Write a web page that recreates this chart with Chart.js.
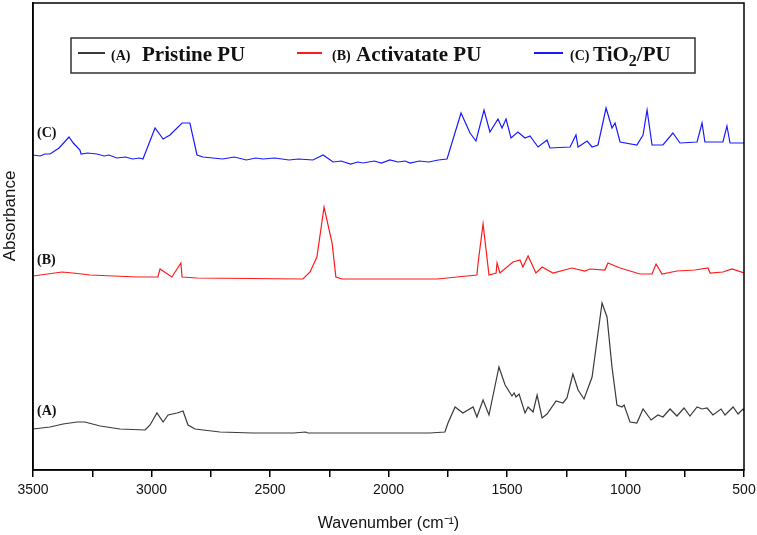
<!DOCTYPE html>
<html>
<head>
<meta charset="utf-8">
<script src="https://cdn.jsdelivr.net/npm/chart.js@4.4.0/dist/chart.umd.min.js"></script>
<style>
  html, body { margin: 0; padding: 0; background: #fff; }
  #wrap { width: 757px; height: 535px; }
</style>
</head>
<body>
<div id="wrap"><canvas id="grafico" width="757" height="535"></canvas></div>
<script>
// Datos (absorbancia en unidades arbitrarias, curvas desplazadas)
const waveA = [3500, 3428, 3373, 3314, 3281, 3217, 3133, 3027, 3006, 2977, 2951, 2930, 2892, 2867, 2846, 2816, 2711, 2572, 2400, 2350, 2340, 2300, 2247, 1994, 1825, 1762, 1749, 1719, 1686, 1643, 1627, 1601, 1576, 1534, 1508, 1479, 1470, 1462, 1449, 1424, 1411, 1390, 1373, 1352, 1331, 1293, 1264, 1247, 1222, 1200, 1175, 1141, 1099, 1078, 1057, 1036, 1015, 1006, 981, 952, 926, 892, 863, 842, 812, 783, 753, 728, 698, 677, 656, 631, 597, 580, 546, 525, 504, 500];
const absA  = [0.41, 0.43, 0.46, 0.48, 0.48, 0.44, 0.41, 0.40, 0.45, 0.57, 0.48, 0.55, 0.57, 0.59, 0.45, 0.41, 0.38, 0.37, 0.37, 0.38, 0.37, 0.37, 0.37, 0.37, 0.37, 0.38, 0.47, 0.63, 0.57, 0.63, 0.53, 0.70, 0.55, 1.03, 0.85, 0.74, 0.77, 0.73, 0.76, 0.57, 0.63, 0.58, 0.75, 0.52, 0.56, 0.69, 0.67, 0.72, 0.96, 0.80, 0.71, 0.93, 1.67, 1.53, 1.03, 0.65, 0.63, 0.65, 0.48, 0.47, 0.61, 0.50, 0.55, 0.53, 0.61, 0.54, 0.62, 0.54, 0.63, 0.61, 0.62, 0.55, 0.61, 0.55, 0.63, 0.56, 0.61, 0.59];

const waveB = [3500, 3378, 3331, 3259, 3061, 2973, 2964, 2914, 2876, 2871, 2808, 2361, 2331, 2302, 2272, 2238, 2222, 2196, 1795, 1711, 1627, 1622, 1601, 1576, 1546, 1542, 1530, 1475, 1445, 1433, 1411, 1378, 1352, 1306, 1226, 1171, 1150, 1087, 1074, 1023, 939, 888, 871, 846, 783, 707, 652, 643, 589, 551, 500];
const absB  = [1.94, 1.98, 1.97, 1.95, 1.93, 1.93, 2.01, 1.93, 2.07, 1.93, 1.92, 1.91, 1.98, 2.13, 2.63, 2.27, 1.93, 1.91, 1.91, 1.93, 1.95, 2.07, 2.46, 1.95, 1.97, 2.07, 1.97, 2.08, 2.10, 2.03, 2.14, 1.97, 2.03, 1.97, 2.02, 1.99, 2.01, 2.00, 2.07, 2.02, 1.96, 1.96, 2.06, 1.96, 1.99, 2.00, 2.02, 1.97, 1.98, 2.01, 1.97];

const waveC = [3500, 3470, 3450, 3428, 3390, 3348, 3330, 3302, 3297, 3270, 3230, 3200, 3180, 3146, 3110, 3080, 3050, 3036, 2985, 2951, 2922, 2871, 2838, 2808, 2783, 2700, 2650, 2600, 2560, 2530, 2480, 2420, 2380, 2319, 2276, 2234, 2200, 2160, 2130, 2108, 2060, 2030, 1994, 1960, 1930, 1909, 1870, 1830, 1790, 1753, 1694, 1656, 1631, 1597, 1572, 1538, 1521, 1504, 1483, 1454, 1424, 1403, 1369, 1331, 1319, 1234, 1209, 1200, 1162, 1141, 1116, 1082, 1057, 1044, 1023, 952, 926, 909, 888, 842, 800, 770, 698, 677, 665, 589, 572, 559, 500];
const absC  = [3.15, 3.14, 3.16, 3.16, 3.22, 3.33, 3.27, 3.20, 3.16, 3.17, 3.16, 3.14, 3.15, 3.12, 3.13, 3.11, 3.12, 3.11, 3.42, 3.31, 3.35, 3.47, 3.47, 3.15, 3.13, 3.11, 3.13, 3.10, 3.12, 3.11, 3.12, 3.10, 3.11, 3.10, 3.15, 3.08, 3.09, 3.06, 3.08, 3.07, 3.09, 3.07, 3.10, 3.08, 3.09, 3.07, 3.09, 3.08, 3.10, 3.11, 3.57, 3.37, 3.29, 3.60, 3.38, 3.51, 3.42, 3.51, 3.32, 3.38, 3.32, 3.34, 3.23, 3.30, 3.22, 3.23, 3.35, 3.23, 3.29, 3.23, 3.25, 3.62, 3.42, 3.47, 3.28, 3.25, 3.35, 3.60, 3.25, 3.25, 3.37, 3.27, 3.28, 3.47, 3.28, 3.28, 3.44, 3.27, 3.27];

const etiquetasX = [3500, 3000, 2500, 2000, 1500, 1000, 500];

const colores = ['#3a3a3a', '#ff1a1a', '#1a1aff'];
const nombres = ['(A) Pristine PU', '(B) Activatate PU', '(C) TiO2/PU'];

function puntos(xs, ys) {
    return xs.map((x, i) => ({ x: x, y: ys[i] }));
}

const serif = '"Liberation Serif", "Times New Roman", serif';

// Marco completo, titulo del eje Y, etiquetas (A)(B)(C) y leyenda con recuadro
const decoracion = {
    id: 'decoracion',
    afterDraw(chart) {
        const c = chart.ctx;
        const a = chart.chartArea;
        c.save();
        c.strokeStyle = '#000';
        c.lineWidth = 1.5;
        c.strokeRect(a.left, a.top, a.right - a.left, a.bottom - a.top);

        // titulo eje Y
        c.save();
        c.translate(10, 216);
        c.rotate(-Math.PI / 2);
        c.fillStyle = '#111';
        c.font = '17px "Liberation Sans", Arial, sans-serif';
        c.textAlign = 'center';
        c.textBaseline = 'middle';
        c.fillText('Absorbance', 0, 0);
        c.restore();

        // etiquetas de las curvas
        c.fillStyle = '#111';
        c.font = 'bold 14px ' + serif;
        c.textBaseline = 'middle';
        c.textAlign = 'left';
        c.fillText('(C)', 37, 133);
        c.fillText('(B)', 37, 260);
        c.fillText('(A)', 37, 411);

        // leyenda
        c.fillStyle = '#fff';
        c.fillRect(71, 38, 624, 35);
        c.strokeStyle = '#333';
        c.lineWidth = 1.5;
        c.strokeRect(71, 38, 624, 35);

        const items = [
            { x1: 78, x2: 105, tx: 111, mx: 142, tag: '(A)', txt: 'Pristine PU', col: colores[0] },
            { x1: 297, x2: 322, tx: 332, mx: 356, tag: '(B)', txt: 'Activatate PU', col: colores[1] },
            { x1: 534, x2: 563, tx: 570, mx: 593, tag: '(C)', txt: 'TiO', col: colores[2] }
        ];
        const yb = 61;
        items.forEach(it => {
            c.strokeStyle = it.col;
            c.lineWidth = 2;
            c.beginPath();
            c.moveTo(it.x1, 53);
            c.lineTo(it.x2, 53);
            c.stroke();
            c.fillStyle = '#111';
            c.textBaseline = 'alphabetic';
            c.font = 'bold 14px ' + serif;
            c.fillText(it.tag, it.tx, yb - 1);
            let x = it.mx;
            c.font = 'bold 21px ' + serif;
            c.fillText(it.txt, x, yb);
            if (it.tag === '(C)') {
                x += c.measureText(it.txt).width;
                c.font = 'bold 16px ' + serif;
                c.fillText('2', x, yb + 5);
                x += c.measureText('2').width;
                c.font = 'bold 21px ' + serif;
                c.fillText('/PU', x, yb);
            }
        });
        c.restore();
    }
};

const ctx = document.getElementById('grafico').getContext('2d');
const grafico = new Chart(ctx, {
    type: 'line',
    data: {
        datasets: [
            { label: nombres[0], data: puntos(waveA, absA), borderColor: colores[0], borderWidth: 1.2 },
            { label: nombres[1], data: puntos(waveB, absB), borderColor: colores[1], borderWidth: 1.2 },
            { label: nombres[2], data: puntos(waveC, absC), borderColor: colores[2], borderWidth: 1.2 }
        ]
    },
    options: {
        responsive: false,
        animation: false,
        events: [],
        elements: { point: { radius: 0 }, line: { tension: 0, fill: false } },
        layout: { padding: { top: 3, right: 13, left: 0, bottom: 0 } },
        plugins: { legend: { display: false }, tooltip: { enabled: false } },
        scales: {
            x: {
                type: 'linear',
                min: 500,
                max: 3500,
                reverse: true,
                afterFit: s => { s.height = 65; },
                afterBuildTicks: s => {
                    s.ticks = [];
                    for (let v = 500; v <= 3500; v += 250) s.ticks.push({ value: v });
                },
                ticks: {
                    autoSkip: false,
                    maxRotation: 0,
                    padding: 5,
                    color: '#111',
                    font: { family: '"Liberation Sans Narrow", "Liberation Sans", Arial, sans-serif', size: 14 },
                    callback: v => etiquetasX.includes(v) ? String(v) : ''
                },
                grid: { display: true, drawOnChartArea: false, drawTicks: true, tickLength: 7, color: '#000', lineWidth: 1.5 },
                border: { display: true, color: '#000', width: 1.5 },
                title: {
                    display: true,
                    text: 'Wavenumber (cm⁻¹)',
                    color: '#111',
                    font: { family: '"Liberation Sans Narrow", "Liberation Sans", Arial, sans-serif', size: 16 },
                    padding: { top: 0, bottom: 2 }
                }
            },
            y: {
                min: 0,
                max: 4.67,
                afterFit: s => { s.width = 33; },
                ticks: { display: false },
                grid: { display: false },
                border: { display: true, color: '#000', width: 1.5 },
                title: { display: false }
            }
        }
    },
    plugins: [decoracion]
});
</script>
</body>
</html>
